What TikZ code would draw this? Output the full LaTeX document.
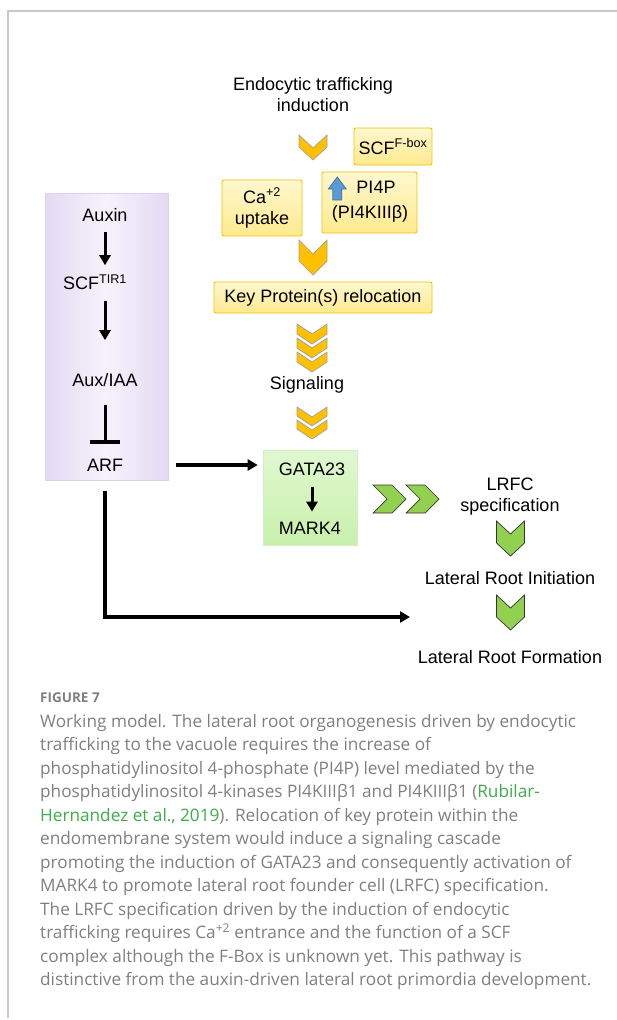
\documentclass[tikz,border=0pt]{standalone}
\usepackage{fontspec}
\setmainfont{Liberation Sans}
\newfontfamily\capfont{Open Sans}
\usetikzlibrary{arrows.meta}
\definecolor{chevY}{HTML}{FFC000}
\definecolor{chevYline}{HTML}{A0A0A0}
\definecolor{chevG}{HTML}{92D050}
\definecolor{chevGline}{HTML}{333333}
\definecolor{yTop}{HTML}{FFF7CF}
\definecolor{yBot}{HTML}{FFEA8E}
\definecolor{yLine}{HTML}{F2C300}
\definecolor{gTop}{HTML}{E0F8D0}
\definecolor{gBot}{HTML}{C8F0AC}
\definecolor{gLine}{HTML}{D3EFC4}
\definecolor{pEdge}{HTML}{E4DAF3}
\definecolor{pMid}{HTML}{F5F2FC}
\definecolor{pLine}{HTML}{DDD2EE}
\definecolor{blueA}{HTML}{5B9BD5}
\definecolor{blueAline}{HTML}{41719C}
\definecolor{capgray}{HTML}{808080}
\definecolor{capgreen}{HTML}{3DAE4A}
\definecolor{framegray}{HTML}{C8C8C8}
\begin{document}
\begin{tikzpicture}[x=1pt,y=-1pt,
  txt/.style={font=\fontsize{18}{21}\selectfont, inner sep=0pt, align=center, text=black},
  ybox/.style={draw=yLine, line width=0.9pt, top color=yTop, bottom color=yBot, rounded corners=2pt},
  gbox/.style={draw=gLine, line width=0.6pt, top color=gTop, bottom color=gBot},
  pbox/.style={draw=pLine, line width=1pt, left color=pEdge, right color=pEdge, middle color=pMid},
  ychev/.style={fill=chevY, draw=chevYline, line width=0.7pt},
  gchev/.style={fill=chevG, draw=chevGline, line width=0.7pt},
  arr/.style={line width=3pt, -{Triangle[length=10pt,width=11pt]}},
  barr/.style={line width=3.4pt, -{Triangle[length=10pt,width=11pt]}},
  tbar/.style={line width=3pt, -{Bar[width=30pt,line width=3.2pt]}},
  captxt/.style={anchor=base west, inner sep=0pt, font=\capfont\fontsize{17.2}{20}\selectfont, text=capgray},
  pics/dchev/.style n args={3}{code={\path[pic actions] (-#3,0) -- (0,#2) -- (#3,0) -- (#3,#1-#2) -- (0,#1) -- (-#3,#1-#2) -- cycle;}},
  pics/rchev/.style n args={3}{code={\path[pic actions] (0,-#3) -- (#1-#2,-#3) -- (#1,0) -- (#1-#2,#3) -- (0,#3) -- (#2,0) -- cycle;}}
]
\useasboundingbox (0,0) rectangle (617,1020);
\fill[white] (0,0) rectangle (617,1020);
% frame
\draw[framegray, line width=1.2pt] (8,1018) -- (8,11) -- (617,11);

% ---- endocytic pathway ----
\node[txt] (endo) at (313,95) {Endocytic trafficking\\induction};
\pic[ychev] at (313,135) {dchev={25}{13}{14}};
\node[ybox, txt, minimum width=78, minimum height=37] (scf) at (393,146.5) {SCF\textsuperscript{F-box}};
\node[ybox, txt, minimum width=80, minimum height=56] (ca) at (262,208) {Ca\textsuperscript{+2}\\uptake};
\node[ybox, minimum width=95, minimum height=61] (pibox) at (369.5,202.5) {};
\node[txt] (pi4p) at (376,187) {PI4P};
\node[txt] (pi4k) at (370,214) {(PI4KIIIβ)};
\draw[fill=blueA, draw=blueAline, line width=0.7pt]
  ([xshift=-10]pi4p.west) ++(-9,-10) -- ++(9,12) -- ++(-4.5,0) -- ++(0,11) -- ++(-9,0) -- ++(0,-11) -- ++(-4.5,0) -- cycle;
\pic[ychev] at (313,240) {dchev={35}{14}{14}};
\node[ybox, txt, minimum width=218, minimum height=31] (key) at (323,297.5) {Key Protein(s) relocation};
\pic[ychev] at (312,352) {dchev={20}{10}{15}};
\pic[ychev] at (312,338) {dchev={20}{10}{15}};
\pic[ychev] at (312,324) {dchev={20}{10}{15}};
\node[txt] (sig) at (307,385) {Signaling};
\pic[ychev] at (312,420) {dchev={19}{10}{15}};
\pic[ychev] at (312,407) {dchev={19}{10}{15}};

% green box
\node[gbox, minimum width=94, minimum height=95] (gbx) at (310,497.5) {};
\node[txt] (gata) at (312,469) {GATA23};
\node[txt] (mark) at (310,528) {MARK4};
\draw[arr, shorten <=11pt, shorten >=10pt] (gata.south) -- (gata.south |- mark.north);

% green chevrons
\pic[gchev] at (373,499) {rchev={33}{14}{14}};
\pic[gchev] at (406,499) {rchev={33}{14}{14}};
\node[txt] (lrfc) at (510,496.5) {LRFC\\specification};
\pic[gchev] at (510.5,521) {dchev={35}{13}{14}};
\node[txt] (lri) at (510,578) {Lateral Root Initiation};
\pic[gchev] at (510.5,595) {dchev={35}{13}{14}};
\node[txt] (lrf) at (510,657) {Lateral Root Formation};

% ---- auxin pathway ----
\node[pbox, minimum width=123, minimum height=287] (pbx) at (106.5,336.5) {};
\node[txt] (auxin) at (105,215) {Auxin};
\node[txt] (scft) at (95,282) {SCF\textsuperscript{TIR1}};
\node[txt] (auxiaa) at (105,380) {Aux/IAA};
\node[txt] (arf) at (105,465) {ARF};
\draw[arr, shorten <=10pt, shorten >=9pt] (auxin.south) -- (auxin.south |- scft.north);
\draw[arr, shorten <=11pt, shorten >=33pt] (scft.south -| auxiaa.north) -- (auxiaa.north);
\draw[tbar, shorten <=18pt, shorten >=15pt] (auxiaa.south) -- (arf.north);
\draw[barr, shorten <=53pt, shorten >=5pt] (arf.east) -- (gbx.west |- arf.east);
\coordinate (lrend) at (410,617);
\draw[barr, shorten <=10pt] (pbx.south -| arf) |- (lrend);

% ---- caption ----
\node[captxt, font=\capfont\fontsize{13.5}{16}\selectfont\bfseries] (fig) at (40,702) {FIGURE 7};
\node[captxt] (c1) at (40,727) {Working model. The lateral root organogenesis driven by endocytic};
\node[captxt] (c2) at (40,750.5) {trafficking to the vacuole requires the increase of};
\node[captxt] (c3) at (40,774) {phosphatidylinositol 4-phosphate (PI4P) level mediated by the};
\node[captxt] (c4) at (40,797.5) {phosphatidylinositol 4-kinases PI4KIIIβ1 and PI4KIIIβ1 (\textcolor{capgreen}{Rubilar-}};
\node[captxt] (c5) at (40,821) {\textcolor{capgreen}{Hernandez et al., 2019}). Relocation of key protein within the};
\node[captxt] (c6) at (40,844.5) {endomembrane system would induce a signaling cascade};
\node[captxt] (c7) at (40,868) {promoting the induction of GATA23 and consequently activation of};
\node[captxt] (c8) at (40,891.5) {MARK4 to promote lateral root founder cell (LRFC) specification.};
\node[captxt] (c9) at (40,915) {The LRFC specification driven by the induction of endocytic};
\node[captxt] (c10) at (40,938.5) {trafficking requires Ca\textsuperscript{+2} entrance and the function of a SCF};
\node[captxt] (c11) at (40,962) {complex although the F-Box is unknown yet. This pathway is};
\node[captxt] (c12) at (40,985.5) {distinctive from the auxin-driven lateral root primordia development.};
\end{tikzpicture}
\end{document}
